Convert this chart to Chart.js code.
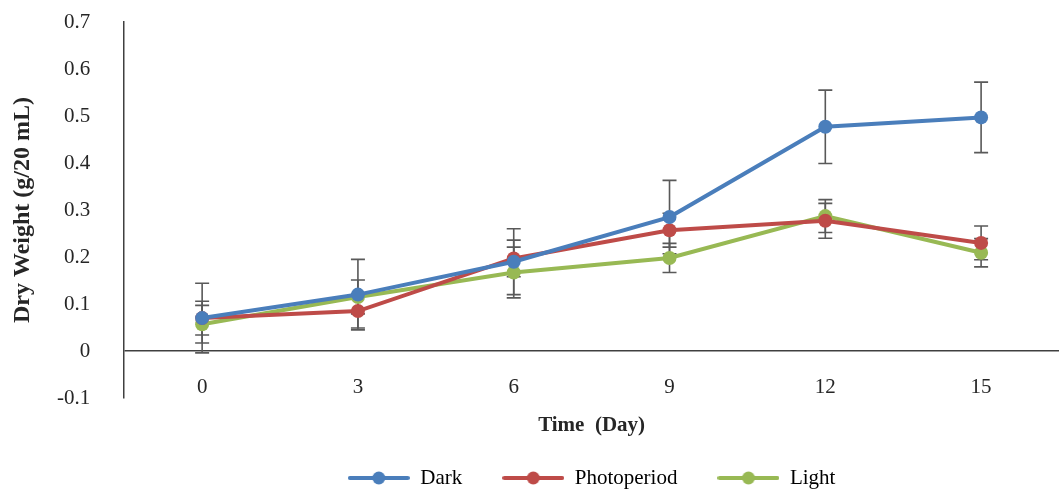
<!DOCTYPE html>
<html>
<head>
<meta charset="utf-8">
<script src="https://cdn.jsdelivr.net/npm/chart.js@4/dist/chart.umd.min.js"></script>
<style>
  html, body { margin: 0; padding: 0; background: #fff; }
  #wrap { width: 1059px; height: 493px; }
</style>
</head>
<body>
<div id="wrap"><canvas id="dryWeightChart"></canvas></div>
<script>
const days = ['0', '3', '6', '9', '12', '15']

const darkData = [0.07, 0.12, 0.19, 0.285, 0.477, 0.497]
const photoData = [0.07, 0.085, 0.197, 0.257, 0.277, 0.23]
const lightData = [0.057, 0.115, 0.167, 0.198, 0.287, 0.209]

const darkErr = [0.074, 0.075, 0.07, 0.078, 0.078, 0.075]
const photoErr = [0.036, 0.036, 0.039, 0.036, 0.037, 0.036]
const lightErr = [0.04, 0.036, 0.054, 0.031, 0.035, 0.03]

const yMin = -0.1
const yMax = 0.7
const yStep = 0.1

const colors = {
  dark: '#4a7ebb',
  photo: '#be4b48',
  light: '#98b954'
}

const serif = "'Liberation Serif', 'Times New Roman', serif"
Chart.defaults.font.family = serif
Chart.defaults.color = '#262626'

// legend swatch: short line with a dot in the middle
function swatch(color) {
  const c = document.createElement('canvas')
  c.width = 62
  c.height = 16
  const ctx = c.getContext('2d')
  ctx.strokeStyle = color
  ctx.lineWidth = 4
  ctx.lineCap = 'round'
  ctx.beginPath()
  ctx.moveTo(2, 8)
  ctx.lineTo(60, 8)
  ctx.stroke()
  ctx.fillStyle = color
  ctx.beginPath()
  ctx.arc(31, 8, 6.5, 0, Math.PI * 2)
  ctx.fill()
  return c
}

function series(label, data, err, color) {
  return {
    label: label,
    data: data,
    errors: err,
    borderColor: color,
    backgroundColor: color,
    borderWidth: 4,
    pointRadius: 7,
    pointHoverRadius: 7,
    pointBorderWidth: 0,
    pointBackgroundColor: color,
    tension: 0,
    legendIcon: swatch(color)
  }
}

const errorBars = {
  id: 'errorBars',
  beforeDatasetsDraw(chart) {
    const ctx = chart.ctx
    const y = chart.scales.y
    ctx.save()
    ctx.strokeStyle = '#595959'
    ctx.lineWidth = 1.6
    chart.data.datasets.forEach((ds, i) => {
      const meta = chart.getDatasetMeta(i)
      meta.data.forEach((pt, j) => {
        const v = ds.data[j]
        const e = ds.errors[j]
        const top = y.getPixelForValue(v + e)
        const bot = y.getPixelForValue(v - e)
        ctx.beginPath()
        ctx.moveTo(pt.x, top)
        ctx.lineTo(pt.x, bot)
        ctx.moveTo(pt.x - 7, top)
        ctx.lineTo(pt.x + 7, top)
        ctx.moveTo(pt.x - 7, bot)
        ctx.lineTo(pt.x + 7, bot)
        ctx.stroke()
      })
    })
    ctx.restore()
  }
}

const isZero = (v) => Math.abs(v) < 1e-9

new Chart(document.querySelector('#dryWeightChart'), {
  type: 'line',
  data: {
    labels: days,
    datasets: [
      series('Dark', darkData, darkErr, colors.dark),
      series('Photoperiod', photoData, photoErr, colors.photo),
      series('Light', lightData, lightErr, colors.light)
    ]
  },
  options: {
    responsive: true,
    maintainAspectRatio: false,
    animation: false,
    layout: {
      autoPadding: false,
      padding: { top: 22, right: 0, left: 0, bottom: -5.5 }
    },
    plugins: {
      tooltip: { enabled: false },
      legend: {
        position: 'bottom',
        fullSize: false,
        labels: {
          usePointStyle: true,
          pointStyleWidth: 62,
          padding: 40,
          font: { size: 21 },
          color: '#262626',
          generateLabels(chart) {
            return chart.data.datasets.map((ds, i) => ({
              text: ds.label,
              pointStyle: ds.legendIcon,
              fillStyle: ds.borderColor,
              strokeStyle: ds.borderColor,
              lineWidth: 0,
              hidden: false,
              datasetIndex: i
            }))
          }
        }
      }
    },
    scales: {
      x: {
        offset: true,
        grid: { display: false, drawTicks: false },
        border: { display: false },
        ticks: {
          mirror: true,
          padding: -2,
          font: { size: 21 },
          color: '#262626'
        },
        title: {
          display: true,
          text: 'Time  (Day)',
          font: { size: 21, weight: 'bold' },
          color: '#262626',
          padding: { top: 19.4, bottom: -11.1 }
        }
      },
      y: {
        min: yMin,
        max: yMax,
        ticks: {
          stepSize: yStep,
          padding: 9,
          font: { size: 21 },
          color: '#262626',
          callback: (value) => {
            const v = Math.round(value * 10) / 10
            return isZero(v) ? '0' : String(v)
          }
        },
        grid: {
          drawTicks: true,
          tickLength: 25,
          tickColor: 'rgba(0,0,0,0)',
          lineWidth: 1.5,
          color: (c) => (c.tick && isZero(c.tick.value) ? '#404040' : 'rgba(0,0,0,0)')
        },
        border: { display: true, color: '#404040', width: 1.5 },
        title: {
          display: true,
          text: 'Dry Weight (g/20 mL)',
          font: { size: 24, weight: 'bold' },
          color: '#262626',
          padding: { top: 8.6, bottom: 10.6 }
        }
      }
    }
  },
  plugins: [errorBars]
})
</script>
</body>
</html>
